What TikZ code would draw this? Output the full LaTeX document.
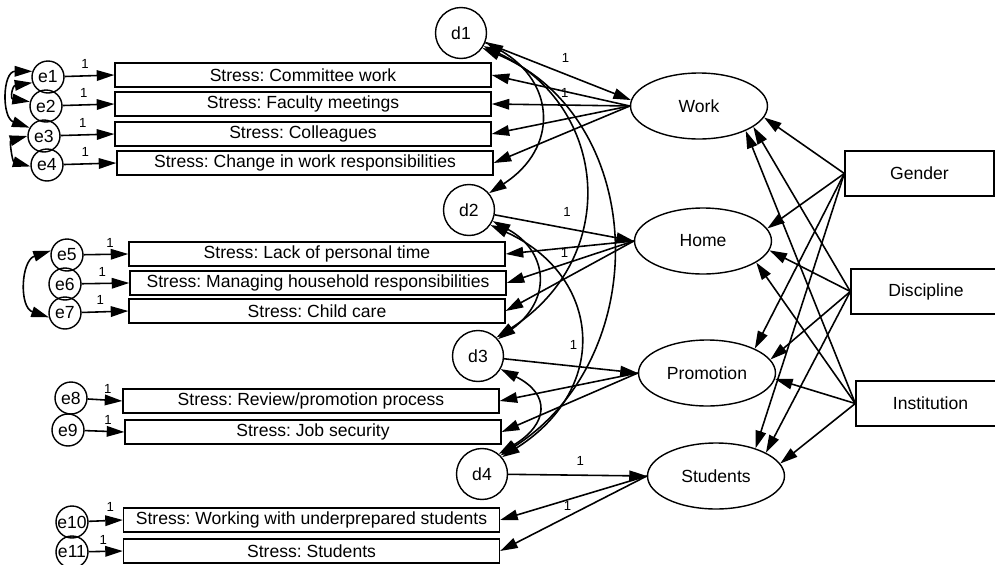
\documentclass[tikz,border=0pt]{standalone}
\usepackage{fontspec}
\setmainfont{Liberation Sans}
\usetikzlibrary{arrows.meta,shapes.geometric}
\frenchspacing
\begin{document}
\begin{tikzpicture}[x=0.02cm,y=-0.02cm,
  font=\fontsize{10}{12}\selectfont,
  every node/.style={inner sep=0pt},
  obs/.style={draw, line width=0.8pt, minimum width=7.52cm, minimum height=0.48cm},
  exo/.style={draw, line width=0.8pt, minimum height=0.9cm},
  lat/.style={draw, ellipse, line width=0.8pt, minimum width=2.74cm, minimum height=1.32cm},
  dist/.style={draw, circle, line width=0.8pt, minimum size=1.02cm},
  err/.style={draw, circle, line width=0.8pt, minimum size=0.64cm},
  reg/.style={draw, line width=0.9pt, -{Triangle[length=10pt,width=6pt]}},
  cov/.style={draw, line width=0.9pt, {Triangle[length=10pt,width=6pt]}-{Triangle[length=10pt,width=6pt]}},
  one/.style={font=\fontsize{7.5}{8}\selectfont}
]
\useasboundingbox (0,0) rectangle (995,565);

% latent factors
\node[lat] (work) at (699,106) {Work};
\node[lat] (home) at (703,241) {Home};
\node[lat] (prom) at (707,373) {Promotion};
\node[lat] (stud) at (716,476) {Students};

% disturbances
\node[dist] (d1) at (461,33) {d1};
\node[dist] (d2) at (469,210) {d2};
\node[dist] (d3) at (478,356) {d3};
\node[dist] (d4) at (482,474) {d4};

% exogenous predictors
\node[exo, minimum width=2.98cm] (gender) at (919.5,173.5) {Gender};
\node[exo, minimum width=3.00cm] (disc) at (926,291.5) {Discipline};
\node[exo, minimum width=2.98cm] (inst) at (930.5,403.5) {Institution};

% indicators
\node[obs] (b1) at (303,75) {Stress: Committee work};
\node[obs] (b2) at (303,104) {Stress: Faculty meetings};
\node[obs] (b3) at (303,134) {Stress: Colleagues};
\node[obs] (b4) at (305,163) {Stress: Change in work responsibilities};
\node[obs] (b5) at (317,254) {Stress: Lack of personal time};
\node[obs] (b6) at (318,283) {Stress: Managing household responsibilities};
\node[obs] (b7) at (317,311) {Stress: Child care};
\node[obs] (b8) at (311,401) {Stress: Review/promotion process};
\node[obs] (b9) at (313,432) {Stress: Job security};
\node[obs] (b10) at (311.5,520) {Stress: Working with underprepared students};
\node[obs] (b11) at (311.5,551) {Stress: Students};

% measurement errors
\node[err] (e1) at (48,77) {e1};
\node[err] (e2) at (46,106) {e2};
\node[err] (e3) at (44,136) {e3};
\node[err] (e4) at (47,165) {e4};
\node[err] (e5) at (67,255) {e5};
\node[err] (e6) at (65,284) {e6};
\node[err] (e7) at (65,313) {e7};
\node[err] (e8) at (71,398) {e8};
\node[err] (e9) at (68,430) {e9};
\node[err] (e10) at (72,522) {e10};
\node[err] (e11) at (72,552) {e11};

% error paths
\draw[reg] (e1) -- node[one,pos=0.41,above=3.5pt]{1} (b1.west);
\draw[reg] (e2) -- node[one,pos=0.41,above=3.5pt]{1} (b2.west);
\draw[reg] (e3) -- node[one,pos=0.41,above=3.5pt]{1} (b3.west);
\draw[reg] (e4) -- node[one,pos=0.41,above=3.5pt]{1} (b4.west);
\draw[reg] (e5) -- node[one,pos=0.59,above=3.5pt]{1} (b5.west);
\draw[reg] (e6) -- node[one,pos=0.43,above=3.5pt]{1} (b6.west);
\draw[reg] (e7) -- node[one,pos=0.40,above=3.5pt]{1} (b7.west);
\draw[reg] (e8) -- node[one,pos=0.58,above=3.5pt]{1} (b8.west);
\draw[reg] (e9) -- node[one,pos=0.59,above=3.5pt]{1} (b9.west);
\draw[reg] (e10) -- node[one,pos=0.63,above=4.5pt]{1} (b10.west);
\draw[reg] (e11) -- node[one,pos=0.43,above=3.5pt]{1} (b11.west);

% error covariances
\draw[cov] (e1.200) .. controls +(-20,3) and +(-20,-3) .. (e2.165);
\draw[cov] (e1.160) .. controls +(-30,0) and +(-28,-10) .. (e3.150);
\draw[cov] (e3.180) .. controls +(-18,5) and +(-18,-5) .. (e4.185);
\draw[cov] (e5.165) .. controls +(-30,10) and +(-30,-10) .. (e7.195);

% loadings
\draw[reg] (work.west) -- node[one,pos=0.47,yshift=-1pt]{1} (b1.east);
\draw[reg] (work.west) -- (b2.east);
\draw[reg] (work.west) -- (b3.east);
\draw[reg] (work.west) -- (b4.east);
\draw[reg] (home.west) -- node[one,pos=0.54,yshift=-3pt]{1} (b5.east);
\draw[reg] (home.west) -- (b6.east);
\draw[reg] (home.west) -- (b7.east);
\draw[reg] (prom.west) -- (b8.east);
\draw[reg] (prom.west) -- (b9.east);
\draw[reg] (stud.west) -- node[one,pos=0.54,yshift=-3.7pt]{1} (b10.east);
\draw[reg] (stud.west) -- (b11.east);

% disturbance paths
\draw[reg] (d1) -- node[one,pos=0.55,above=6pt]{1} (work.175);
\draw[reg] (d2) -- node[one,pos=0.52,above=6.5pt]{1} (home.west);
\draw[reg] (d3) -- node[one,pos=0.52,above=9pt]{1} (prom.west);
\draw[reg] (d4) -- node[one,pos=0.52,above=5pt]{1} (stud.west);

% disturbance covariances
\draw[cov] (d1.-20) .. controls +(70,40) and +(70,-45) .. (d2.40);
\draw[cov] (d1.-30) .. controls +(125,60) and +(125,-80) .. (d3.45);
\draw[cov] (d1.-35) .. controls +(165,70) and +(155,-100) .. (d4.45);
\draw[cov] (d2.-25) .. controls +(55,30) and +(55,-40) .. (d3.40);
\draw[cov] (d2.-35) .. controls +(110,50) and +(110,-70) .. (d4.40);
\draw[cov] (d3.-30) .. controls +(50,25) and +(50,-30) .. (d4.50);

% structural paths
\draw[reg] (gender.west) -- (work.-10);
\draw[reg] (gender.west) -- (home.11);
\draw[reg] (gender.west) -- (prom.27);
\draw[reg] (gender.west) -- (stud.35);
\draw[reg] (disc.west) -- (work.-21);
\draw[reg] (disc.west) -- (home.-8);
\draw[reg] (disc.west) -- (prom.12);
\draw[reg] (disc.west) -- (stud.25);
\draw[reg] (inst.west) -- (work.-28);
\draw[reg] (inst.west) -- (home.-22);
\draw[reg] (inst.west) -- (prom.-5);
\draw[reg] (inst.west) -- (stud.11);
\end{tikzpicture}
\end{document}
